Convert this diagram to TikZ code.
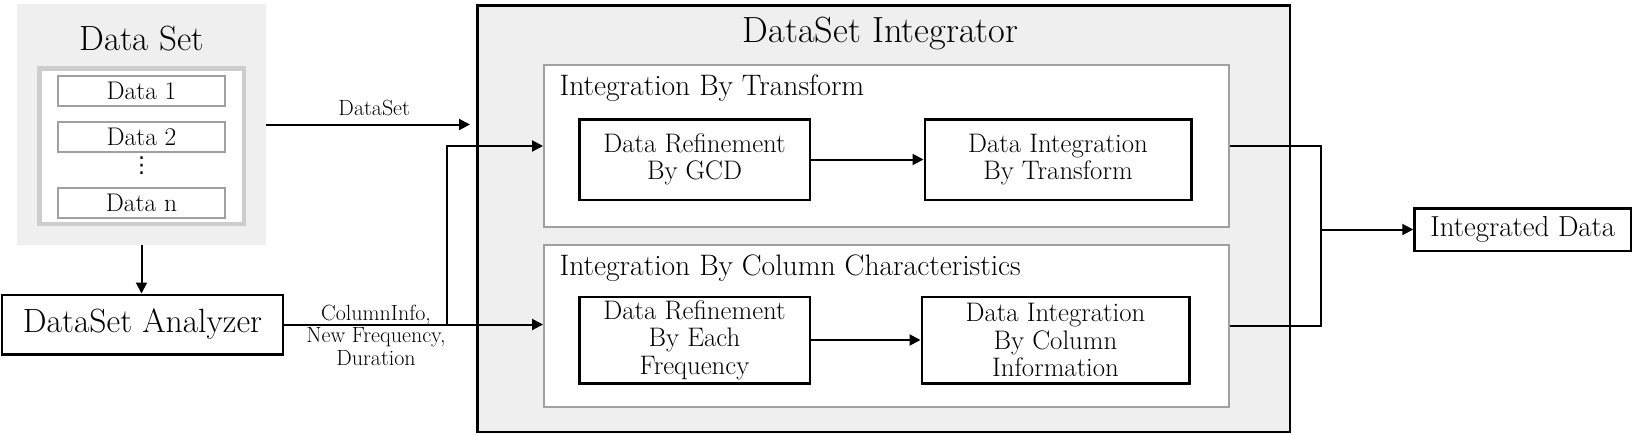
\documentclass[tikz,border=0pt]{standalone}
\usepackage{fontspec}
\newfontfamily\symfont{DejaVu Sans}
\usepackage{tikz}
\usetikzlibrary{arrows.meta,positioning}
\definecolor{panelgray}{HTML}{EFEFEF}
\definecolor{framegray}{HTML}{A0A0A0}
\definecolor{listgray}{HTML}{CDCDCD}

\begin{document}
\begin{tikzpicture}[
  x=1pt, y=-1pt,
  panel/.style={draw=black,line width=2.5pt,fill=panelgray},
  stage/.style={draw=framegray,line width=2pt,fill=white,minimum width=685pt,minimum height=162pt},
  proc/.style={draw,line width=2.5pt,fill=white,align=center,minimum width=230.5pt,
               minimum height=80.5pt,font=\fontsize{26.8}{27.5}\selectfont},
  item/.style={draw=framegray,line width=2pt,fill=white,minimum width=167pt,minimum height=30pt,
               inner sep=0pt,font=\fontsize{25.5}{28}\selectfont},
  headtext/.style={anchor=base,font=\fontsize{35}{40}\selectfont},
  sect/.style={anchor=base west,font=\fontsize{29.6}{32}\selectfont},
  lbl/.style={align=center,font=\fontsize{22}{22.5}\selectfont},
  arr/.style={-{Triangle[length=11pt,width=11pt]},line width=2pt},
  wire/.style={line width=2pt}
]
\useasboundingbox (0,0) rectangle (1632,434);

% Data set
\node[fill=panelgray,minimum width=249pt,minimum height=241pt] (dset) at (141.5,124.5) {};
\node[headtext] (dsettitle) at (141.5,50) {Data Set};
\node[draw=listgray,line width=4.5pt,fill=white,minimum width=204.5pt,minimum height=155.5pt] (dlist) at (141.5,146) {};
\node[item] (d1) at (141.5,91) {Data 1};
\node[item, below=14pt of d1] (d2) {Data 2};
\node[item, below=34pt of d2] (dn) {Data n};
\node[inner sep=0pt,font=\symfont\fontsize{22}{24}\selectfont] (dots) at (141.5,166) {⋮};

% Analyzer
\node[draw,line width=2.5pt,fill=white,minimum width=281pt,minimum height=59.5pt,
      font=\fontsize{33.6}{36}\selectfont] (analyzer) at (142.5,324.5) {DataSet Analyzer};

% Integrator
\node[panel,minimum width=812.5pt,minimum height=426.5pt] (integ) at (883.5,218.5) {};
\node[headtext,font=\fontsize{36.4}{40}\selectfont] (integtitle) at (880.5,42) {DataSet Integrator};

\node[stage] (tbox) at (886.5,146) {};
\node[stage, below=16pt of tbox] (cbox) {};
\node[sect] (ttitle) at ([xshift=13pt,yshift=-31pt]tbox.north west) {Integration By Transform};
\node[sect] (ctitle) at ([xshift=13pt,yshift=-31pt]cbox.north west) {Integration By Column Characteristics};

\node[proc] (gcd) at (694.5,159.5) {Data Refinement\\By GCD};
\node[proc, right=112.5pt of gcd, minimum width=266.5pt] (dit) {Data Integration\\By Transform};
\node[proc, below=94.5pt of gcd, minimum height=86.5pt] (freq) {Data Refinement\\By Each\\Frequency};
\node[proc, right=109.5pt of freq, minimum width=267.5pt, minimum height=86.5pt] (colinfo) {Data Integration\\By Column\\Information};

% Output
\coordinate (merge) at (1321,229.5);
\node[draw,line width=2.5pt,fill=white,minimum width=216.5pt,minimum height=42.5pt,
      font=\fontsize{28.9}{31}\selectfont, right=92.25pt of merge] (outdata) {Integrated Data};

% Arrows
\coordinate (dsin) at (470,124.5);
\draw[arr] (dset.east) -- node[lbl, above=4pt, pos=0.53] (dslbl) {DataSet} (dsin);
\draw[arr] (dset.south) -- (dset.south |- analyzer.north);
\draw[arr] (analyzer.east) -- (analyzer.east -| cbox.west);
\coordinate (split) at (447,324.5);
\draw[arr] (split) |- (tbox.west);
\node[lbl] (infolbl) at (376,335) {ColumnInfo,\\New Frequency,\\Duration};
\draw[arr] (gcd) -- (dit);
\draw[arr] (freq) -- (colinfo);
\draw[wire] (tbox.east) -| (merge) |- (cbox.east);
\draw[arr] (merge) -- (outdata);

\end{tikzpicture}
\end{document}
